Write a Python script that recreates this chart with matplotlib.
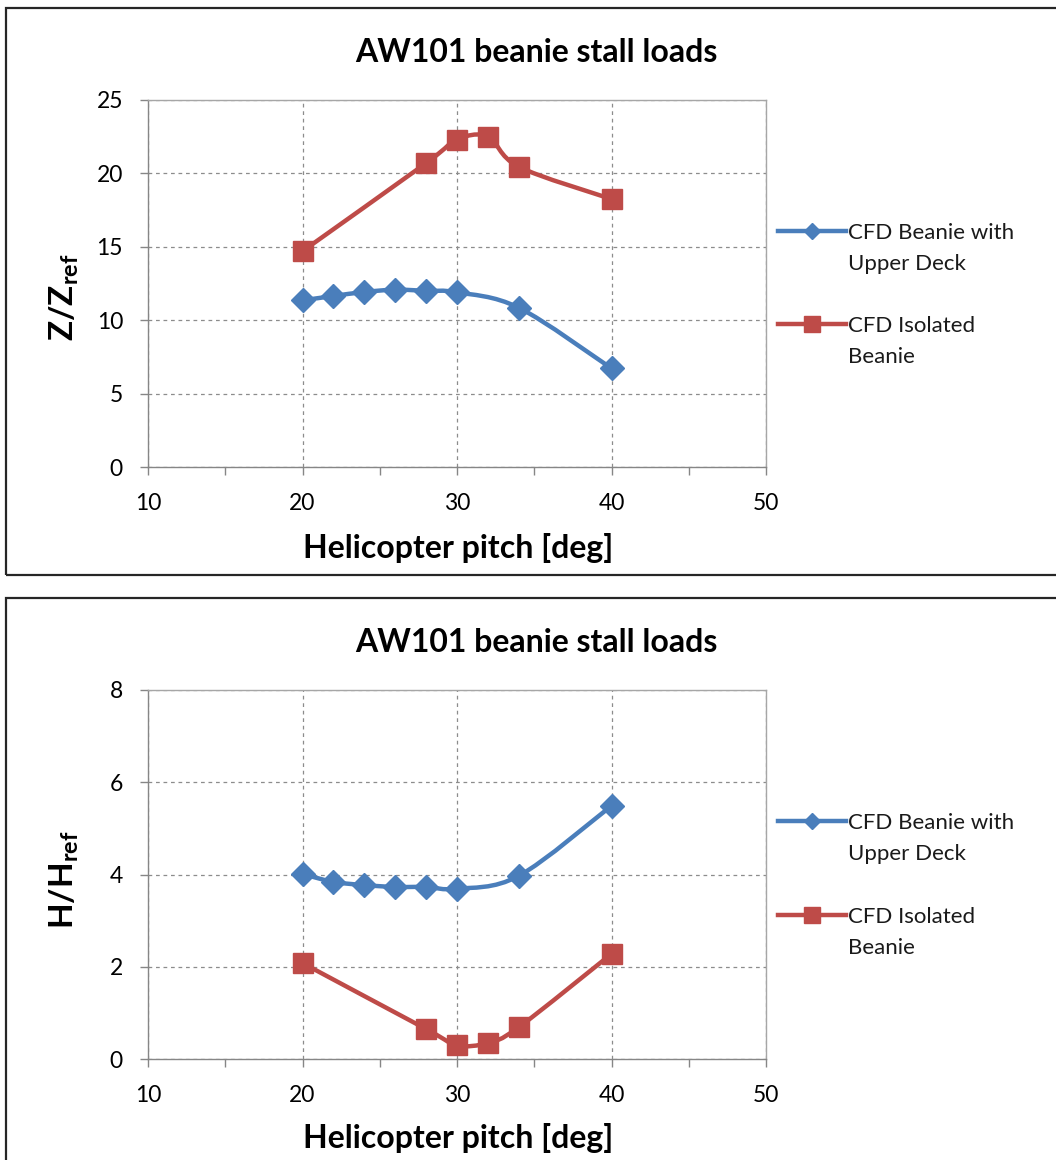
import matplotlib
matplotlib.use("Agg")
import matplotlib.pyplot as plt
from matplotlib.path import Path
from matplotlib.patches import PathPatch, Rectangle
from matplotlib.lines import Line2D
import numpy as np

plt.rcParams['font.family'] = ['Lato', 'DejaVu Sans']
plt.rcParams['mathtext.fontset'] = 'custom'
plt.rcParams['mathtext.rm'] = 'Lato'
plt.rcParams['mathtext.bf'] = 'Lato:bold'

# Helicopter pitch angles [deg]
pitch_deck = [20, 22, 24, 26, 28, 30, 34, 40]
pitch_iso = [20, 28, 30, 32, 34, 40]

# Vertical load Z/Zref
z_deck = [11.35, 11.65, 11.92, 12.08, 12.0, 11.9, 10.85, 6.72]
z_iso = [14.7, 20.7, 22.3, 22.5, 20.45, 18.25]

# Horizontal load H/Href
h_deck = [4.01, 3.84, 3.77, 3.73, 3.73, 3.69, 3.97, 5.49]
h_iso = [2.08, 0.65, 0.30, 0.35, 0.69, 2.28]

series_labels = [["CFD Beanie with", "Upper Deck"], ["CFD Isolated", "Beanie"]]
title_text = "AW101 beanie stall loads"
xlabel_text = "Helicopter pitch [deg]"

BLUE = "#4A7EBB"
RED = "#BE4B48"
GRID = "#8C8C8C"


def smooth_path(xs, ys):
    """Bezier path through the points with spreadsheet-style smoothing."""
    pts = np.column_stack([xs, ys]).astype(float)
    n = len(pts)
    verts = [pts[0]]
    codes = [Path.MOVETO]
    for i in range(n - 1):
        p0 = pts[i - 1] if i > 0 else pts[i]
        p1 = pts[i]
        p2 = pts[i + 1]
        p3 = pts[i + 2] if i + 2 < n else pts[i + 1]
        c1 = p1 + (p2 - p0) / 6.0
        c2 = p2 - (p3 - p1) / 6.0
        verts += [c1, c2, p2]
        codes += [Path.CURVE4] * 3
    return Path(verts, codes)


fig = plt.figure(figsize=(10.56, 11.6), dpi=100)
W, H = 1056.0, 1160.0


def fx(px):
    return px / W


def fy(py):
    return 1 - py / H


# Chart frames
for top, bot in [(8, 575), (598, 1175)]:
    fig.add_artist(Rectangle((fx(6), fy(bot)), fx(1070) - fx(6), fy(top) - fy(bot),
                             transform=fig.transFigure, fill=False,
                             edgecolor="#262626", linewidth=1.6, zorder=0))


def make_panel(ax_top_px, ax_bot_px, title_y_px, xlabel_y_px, ylab, ylab_y_px,
               ydata_deck, ydata_iso, ymax, ystep, legend_y_px):
    ax = fig.add_axes([fx(148), fy(ax_bot_px), fx(766) - fx(148), fy(ax_top_px) - fy(ax_bot_px)])
    ax.set_xlim(10, 50)
    ax.set_ylim(0, ymax)
    ax.set_xticks([10, 20, 30, 40, 50])
    ax.set_xticks([15, 25, 35, 45], minor=True)
    ax.set_yticks(np.arange(0, ymax + 0.001, ystep))
    ax.tick_params(axis='both', which='both', direction='out', length=6, width=1,
                   color="#868686", labelsize=16.5)
    ax.tick_params(axis='y', pad=12)
    ax.tick_params(axis='x', pad=13)
    ax.grid(True, which='major', color=GRID, linestyle=(0, (3, 3)), linewidth=0.9)
    for s in ax.spines.values():
        s.set_color("#A6A6A6")
        s.set_linewidth(1.0)
    ax.spines['left'].set_color("#868686")
    ax.spines['bottom'].set_color("#868686")
    ax.set_axisbelow(True)

    for xs, ys, col, mk, ms in [(pitch_deck, ydata_deck, BLUE, 'D', 12),
                                (pitch_iso, ydata_iso, RED, 's', 14)]:
        ax.add_patch(PathPatch(smooth_path(xs, ys), fill=False, edgecolor=col,
                               linewidth=3.2, zorder=3, capstyle='round', joinstyle='round'))
        ax.plot(xs, ys, linestyle='none', marker=mk, markersize=ms, color=col,
                markeredgecolor=col, zorder=4, clip_on=False)

    fig.text(fx(64), fy(ylab_y_px), ylab, ha='center', va='center', rotation=90,
             fontsize=24, fontweight='bold')
    fig.text(fx(536), fy(title_y_px), title_text, ha='center', va='center',
             fontsize=23, fontweight='bold')
    fig.text(fx(458), fy(xlabel_y_px), xlabel_text, ha='center', va='center',
             fontsize=23, fontweight='bold')

    # Legend entries
    for (y0, lines, col, mk, ms) in [(legend_y_px[0], series_labels[0], BLUE, 'D', 8),
                                     (legend_y_px[1], series_labels[1], RED, 's', 11)]:
        fig.add_artist(Line2D([fx(778), fx(846)], [fy(y0), fy(y0)], transform=fig.transFigure,
                              color=col, linewidth=3.2))
        fig.add_artist(Line2D([fx(812)], [fy(y0)], transform=fig.transFigure, color=col,
                              marker=mk, markersize=ms, linestyle='none'))
        for k, line in enumerate(lines):
            fig.text(fx(848), fy(y0 + 31 * k), line, ha='left', va='center_baseline',
                     fontsize=16, color="#1a1a1a")
    return ax


make_panel(100, 467, 52, 548, r'$\mathbf{Z/Z_{ref}}$', 297, z_deck, z_iso, 25, 5, (231, 324))
make_panel(690, 1059, 643, 1138, r'$\mathbf{H/H_{ref}}$', 880, h_deck, h_iso, 8, 2, (821, 915))

fig.savefig("out.png", dpi=100)
